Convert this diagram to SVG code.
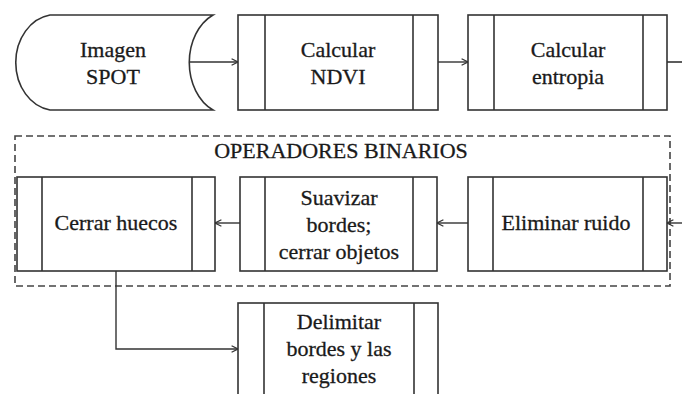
<svg xmlns="http://www.w3.org/2000/svg" width="682" height="394" viewBox="0 0 682 394">
<style>
.box{fill:#fff;stroke:#333;stroke-width:1.6}
.ln{fill:none;stroke:#333;stroke-width:1.6}
.con{fill:none;stroke:#333;stroke-width:1.4;marker-end:url(#arr)}
.dash{fill:none;stroke:#444;stroke-width:1.6;stroke-dasharray:7 4}
.t{font-family:'Liberation Serif','Times New Roman',serif;font-size:22px;fill:#1a1a1a;stroke:#1a1a1a;stroke-width:0.3;text-anchor:middle}
</style>
<defs>
<marker id="arr" viewBox="0 0 10 10" refX="9" refY="5" markerWidth="8" markerHeight="8" markerUnits="userSpaceOnUse" orient="auto">
<path d="M1,1 L9,5 L1,9" fill="none" stroke="#333" stroke-width="1.6"/>
</marker>
</defs>
<rect class="dash" x="15" y="136" width="655" height="150"/>
<text class="t" x="341" y="158">OPERADORES BINARIOS</text>
<g id="connectors">
<line class="con" x1="180" y1="62" x2="238" y2="62"/>
<line class="con" x1="438" y1="62" x2="468" y2="62"/>
<line class="ln" x1="667" y1="62" x2="682" y2="62"/>
<line class="con" x1="682" y1="223" x2="667" y2="223"/>
<line class="con" x1="468" y1="223" x2="437" y2="223"/>
<line class="con" x1="240" y1="223" x2="215" y2="223"/>
<polyline class="con" points="116,271 116,349 238,349"/>
</g>
<g id="imagen">
<path class="box" d="M50,15 L213,15 A40,52 0 0 0 213,110 L50,110 A40,48 0 0 1 50,15 Z"/>
<text class="t" x="113" y="57">Imagen</text>
<text class="t" x="113" y="84">SPOT</text>
</g>
<g id="ndvi">
<rect class="box" x="238" y="15" width="200" height="95"/>
<line class="ln" x1="265" y1="15" x2="265" y2="110"/>
<line class="ln" x1="413" y1="15" x2="413" y2="110"/>
<text class="t" x="338" y="57">Calcular</text>
<text class="t" x="338" y="84">NDVI</text>
</g>
<g id="entropia">
<rect class="box" x="468" y="15" width="199" height="95"/>
<line class="ln" x1="494" y1="15" x2="494" y2="110"/>
<line class="ln" x1="643" y1="15" x2="643" y2="110"/>
<text class="t" x="568" y="57">Calcular</text>
<text class="t" x="568" y="84">entropia</text>
</g>
<g id="eliminar">
<rect class="box" x="468" y="177" width="199" height="94"/>
<line class="ln" x1="493" y1="177" x2="493" y2="271"/>
<line class="ln" x1="643" y1="177" x2="643" y2="271"/>
<text class="t" x="566" y="230">Eliminar ruido</text>
</g>
<g id="suavizar">
<rect class="box" x="240" y="177" width="197" height="94"/>
<line class="ln" x1="265" y1="177" x2="265" y2="271"/>
<line class="ln" x1="413" y1="177" x2="413" y2="271"/>
<text class="t" x="339" y="205">Suavizar</text>
<text class="t" x="339" y="232">bordes;</text>
<text class="t" x="339" y="259">cerrar objetos</text>
</g>
<g id="cerrar">
<rect class="box" x="17" y="177" width="198" height="94"/>
<line class="ln" x1="42" y1="177" x2="42" y2="271"/>
<line class="ln" x1="192" y1="177" x2="192" y2="271"/>
<text class="t" x="116" y="230">Cerrar huecos</text>
</g>
<g id="delimitar">
<rect class="box" x="238" y="303" width="200" height="100"/>
<line class="ln" x1="264" y1="303" x2="264" y2="403"/>
<line class="ln" x1="414" y1="303" x2="414" y2="403"/>
<text class="t" x="339" y="329">Delimitar</text>
<text class="t" x="339" y="356">bordes y las</text>
<text class="t" x="339" y="383">regiones</text>
</g>
</svg>
